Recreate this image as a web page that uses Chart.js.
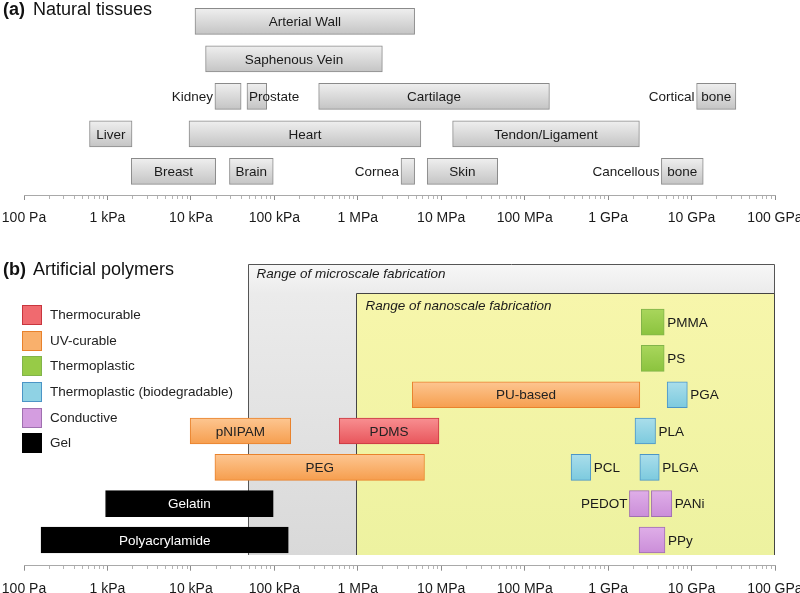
<!DOCTYPE html>
<html>
<head>
<meta charset="utf-8">
<script src="https://cdn.jsdelivr.net/npm/chart.js@4"></script>
<style>
html,body{margin:0;padding:0;background:#fff;}
#wrap{position:relative;width:800px;height:593px;overflow:hidden;font-family:"Liberation Sans",Arial,sans-serif;color:#222;background:#fff;}
.title{position:absolute;left:3px;font-size:18px;line-height:18px;white-space:nowrap;color:#111;}
.title b{margin-right:3px;}
#cA{position:absolute;left:0;top:0;}
#cB{position:absolute;left:0;top:264px;}
#legend{position:absolute;left:22px;top:305px;font-size:13.5px;}
.li{position:relative;height:25.7px;}
.sw{position:absolute;left:0;top:0;width:18px;height:18px;border:1px solid #000;}
.lt{position:absolute;left:28px;top:0;line-height:20px;white-space:nowrap;color:#222;}
</style>
</head>
<body>
<div id="wrap">
  <canvas id="cA" width="800" height="232"></canvas>
  <canvas id="cB" width="800" height="329"></canvas>
  <div class="title" style="top:0px;"><b>(a)</b> Natural tissues</div>
  <div class="title" style="top:260px;"><b>(b)</b> Artificial polymers</div>
  <div id="legend"></div>
</div>
<script>
// ---------------- DATA ----------------
const tickLabels = ['100 Pa','1 kPa','10 kPa','100 kPa','1 MPa','10 MPa','100 MPa','1 GPa','10 GPa','100 GPa'];

// (a) Natural tissues: stiffness ranges (Pa), row 0 = top
const tissueNames = ['Arterial Wall','Saphenous Vein','Kidney','Prostate','Cartilage','Cortical bone','Liver','Heart','Tendon/Ligament','Breast','Brain','Cornea','Skin','Cancellous bone'];
const tissueRow   = [0, 1, 2, 2, 2, 2, 3, 3, 3, 4, 4, 4, 4, 4];
const tissueMin   = [1.12e4, 1.5e4, 1.94e4, 4.7e4, 3.4e5, 1.15e10, 6.1e2, 9.5e3, 1.37e7, 1.93e3, 2.9e4, 3.3e6, 6.8e6, 4.35e9];
const tissueMax   = [4.8e6, 1.97e6, 4.0e4, 8.1e4, 1.98e8, 3.4e10, 1.97e3, 5.7e6, 2.37e9, 1.98e4, 9.7e4, 4.8e6, 4.75e7, 1.38e10];

// (b) Artificial polymers
const polymerClasses = ['Thermocurable','UV-curable','Thermoplastic','Thermoplastic (biodegradable)','Conductive','Gel'];
const polymerNames = ['PMMA','PS','PU-based','PGA','pNIPAM','PDMS','PLA','PEG','PCL','PLGA','Gelatin','PEDOT','PANi','Polyacrylamide','PPy'];
const polymerRow   = [0, 1, 2, 2, 3, 3, 3, 4, 4, 4, 5, 5, 5, 6, 6];
const polymerMin   = [2.5e9, 2.5e9, 4.5e6, 5.1e9, 9.8e3, 6.0e5, 2.1e9, 1.94e4, 3.6e8, 2.4e9, 9.5e2, 1.8e9, 3.3e9, 1.6e2, 2.35e9];
const polymerMax   = [4.7e9, 4.7e9, 2.4e9, 8.9e9, 1.57e5, 9.4e6, 3.7e9, 6.3e6, 6.2e8, 4.1e9, 9.7e4, 3.1e9, 5.8e9, 1.47e5, 4.8e9];
const polymerClass = [2, 2, 1, 3, 1, 0, 3, 1, 3, 3, 5, 4, 4, 5, 4];

// fabrication ranges (Pa)
const microRange = [4.8e4, 1e11];
const nanoRange  = [9.5e5, 1e11];

// ---------------- STYLE ----------------
Chart.defaults.font.family = '"Liberation Sans", Arial, sans-serif';
Chart.defaults.color = '#222';

const classStyle = [
  {top:'#f88f91', bottom:'#e8555b', border:'#c8363e', swatch:'#f06a6f', text:'#222'},
  {top:'#fdc691', bottom:'#f69e4e', border:'#e8822c', swatch:'#f9b06c', text:'#222'},
  {top:'#a9d65c', bottom:'#8bc33e', border:'#82b44a', swatch:'#97cb47', text:'#222'},
  {top:'#aadeeb', bottom:'#7ccade', border:'#4b95c6', swatch:'#8fd2e4', text:'#222'},
  {top:'#dfaee8', bottom:'#cb8ed9', border:'#a070b0', swatch:'#d49de0', text:'#222'},
  {top:'#000000', bottom:'#000000', border:'#000000', swatch:'#000000', text:'#ffffff'}
];

const labelPlacement = {
  'Kidney': {left:'Kidney'},
  'Prostate': {start:'Prostate'},
  'Cortical bone': {left:'Cortical', inside:'bone'},
  'Cornea': {left:'Cornea'},
  'Cancellous bone': {left:'Cancellous', inside:'bone'},
  'PMMA': {right:'PMMA'}, 'PS': {right:'PS'}, 'PGA': {right:'PGA'}, 'PLA': {right:'PLA'},
  'PCL': {right:'PCL'}, 'PLGA': {right:'PLGA'}, 'PANi': {right:'PANi'}, 'PPy': {right:'PPy'},
  'PEDOT': {left:'PEDOT'}
};

const isDecade = v => Math.abs(Math.log10(v) - Math.round(Math.log10(v))) < 1e-9;
const tickValues = [];
for (let e = 2; e <= 11; e++) {
  for (let m = 1; m <= 9; m++) {
    const v = m * Math.pow(10, e);
    if (v <= 1.0001e11) tickValues.push(v);
  }
}

function xScale(axisHeight) {
  return {
    type: 'logarithmic', min: 100, max: 1e11, offset: false,
    border: {display: true, color: '#a9a9a9', width: 1},
    grid: {
      display: true, drawOnChartArea: false, drawTicks: true, tickLength: 5, offset: false,
      tickColor: c => (c.tick && isDecade(c.tick.value)) ? '#8c8c8c' : '#b4b4b4',
      tickBorderDash: c => (c.tick && isDecade(c.tick.value)) ? [] : [3, 30],
      tickWidth: 1
    },
    ticks: {
      autoSkip: false, maxRotation: 0, minRotation: 0, padding: 10,
      color: '#1a1a1a', font: {size: 14},
      callback: v => isDecade(v) ? tickLabels[Math.round(Math.log10(v)) - 2] : ''
    },
    afterBuildTicks: s => { s.ticks = tickValues.map(v => ({value: v, major: isDecade(v)})); },
    afterFit: s => { s.paddingLeft = 0; s.paddingRight = 0; s.height = axisHeight; }
  };
}

function yScale(min, max) {
  return {type: 'linear', display: false, reverse: true, min: min, max: max, offset: false, grid: {offset: false}};
}

function grad(top, bottom) {
  return (c) => {
    const chart = c.chart;
    if (!chart.chartArea || !c.raw) return bottom;
    const y = chart.scales.y.getPixelForValue(c.raw.y);
    const g = chart.ctx.createLinearGradient(0, y - 13, 0, y + 13);
    g.addColorStop(0, top);
    g.addColorStop(1, bottom);
    return g;
  };
}

const barLabels = {
  id: 'barLabels',
  afterDatasetsDraw(chart) {
    const ctx = chart.ctx;
    chart.data.datasets.forEach((ds, di) => {
      const meta = chart.getDatasetMeta(di);
      meta.data.forEach((el, j) => {
        const d = ds.data[j];
        const left = Math.min(el.x, el.base), right = Math.max(el.x, el.base), y = el.y + 1;
        const p = labelPlacement[d.name] || {inside: d.name};
        ctx.save();
        ctx.font = '13.5px "Liberation Sans", Arial, sans-serif';
        ctx.textBaseline = 'middle';
        ctx.fillStyle = ds.labelColor || '#1a1a1a';
        if (p.inside) { ctx.textAlign = 'center'; ctx.fillText(p.inside, (left + right) / 2, y); }
        if (p.start) { ctx.textAlign = 'left'; ctx.fillText(p.start, left + 2, y); }
        ctx.fillStyle = '#1a1a1a';
        if (p.left) { ctx.textAlign = 'right'; ctx.fillText(p.left, left - 2, y); }
        if (p.right) { ctx.textAlign = 'left'; ctx.fillText(p.right, right + 3, y); }
        ctx.restore();
      });
    });
  }
};

const fabBoxes = {
  id: 'fabBoxes',
  beforeDatasetsDraw(chart) {
    const ctx = chart.ctx, xs = chart.scales.x, ys = chart.scales.y;
    const bottom = Math.round(ys.getPixelForValue(6.41));
    const drawBox = (range, yTop, stops, stroke, label, dx, dy) => {
      const l = Math.round(xs.getPixelForValue(range[0])) + 0.5;
      const r = Math.round(xs.getPixelForValue(range[1])) - 0.5;
      const t = Math.round(ys.getPixelForValue(yTop)) + 0.5;
      const g = ctx.createLinearGradient(0, t, 0, bottom);
      stops.forEach(s => g.addColorStop(s[0], s[1]));
      ctx.save();
      ctx.fillStyle = g;
      ctx.fillRect(l, t, r - l, bottom - t);
      ctx.strokeStyle = stroke; ctx.lineWidth = 1;
      ctx.beginPath();
      ctx.moveTo(l, bottom); ctx.lineTo(l, t); ctx.lineTo(r, t); ctx.lineTo(r, bottom);
      ctx.stroke();
      ctx.font = 'italic 13.5px "Liberation Sans", Arial, sans-serif';
      ctx.fillStyle = '#1a1a1a'; ctx.textBaseline = 'middle'; ctx.textAlign = 'left';
      ctx.fillText(label, l + dx, t + dy);
      ctx.restore();
    };
    drawBox(microRange, -1.6, [[0,'#f7f7f7'],[0.1,'#ebebeb'],[1,'#d9d9d9']], '#555', 'Range of microscale fabrication', 8, 10);
    drawBox(nanoRange, -0.81, [[0,'#f7f6ab'],[1,'#edf2a0']], '#444', 'Range of nanoscale fabrication', 9, 12.5);
  }
};

const common = {
  responsive: false, animation: false, events: [],
  indexAxis: 'y',
  plugins: {legend: {display: false}, tooltip: {enabled: false}}
};

// ---------------- CHART (a) ----------------
const tissueData = tissueNames.map((n, i) => ({x: [tissueMin[i], tissueMax[i]], y: tissueRow[i], name: n}));
new Chart(document.getElementById('cA'), {
  type: 'bar',
  data: {datasets: [{
    label: 'Natural tissues', data: tissueData,
    backgroundColor: grad('#efefef', '#c4c4c4'), borderColor: '#8a8a8a', borderWidth: 1,
    borderSkipped: false, barThickness: 26, grouped: false
  }]},
  options: Object.assign({}, common, {
    layout: {padding: {left: 24, right: 25, top: 0, bottom: 0}},
    scales: {
      x: xScale(37),
      y: yScale(-0.571, 4.63)
    }
  }),
  plugins: [barLabels]
});

// ---------------- CHART (b) ----------------
const polymerDatasets = polymerClasses.map((cls, k) => ({
  label: cls,
  data: polymerNames.map((n, i) => ({x: [polymerMin[i], polymerMax[i]], y: polymerRow[i], name: n}))
                    .filter((d, i) => polymerClass[i] === k),
  backgroundColor: grad(classStyle[k].top, classStyle[k].bottom),
  borderColor: classStyle[k].border, borderWidth: 1,
  borderSkipped: false, barThickness: 26, grouped: false,
  labelColor: classStyle[k].text
}));
new Chart(document.getElementById('cB'), {
  type: 'bar',
  data: {datasets: polymerDatasets},
  options: Object.assign({}, common, {
    layout: {padding: {left: 24, right: 25, top: 0, bottom: 0}},
    scales: {
      x: xScale(27.3),
      y: yScale(-1.6, 6.709)
    }
  }),
  plugins: [fabBoxes, barLabels]
});

// ---------------- LEGEND (HTML) ----------------
const legend = document.getElementById('legend');
polymerClasses.forEach((cls, k) => {
  const item = document.createElement('div');
  item.className = 'li';
  const sw = document.createElement('div');
  sw.className = 'sw';
  sw.style.background = classStyle[k].swatch;
  sw.style.borderColor = classStyle[k].border;
  const t = document.createElement('div');
  t.className = 'lt';
  t.textContent = cls;
  item.appendChild(sw); item.appendChild(t);
  legend.appendChild(item);
});
</script>
</body>
</html>
